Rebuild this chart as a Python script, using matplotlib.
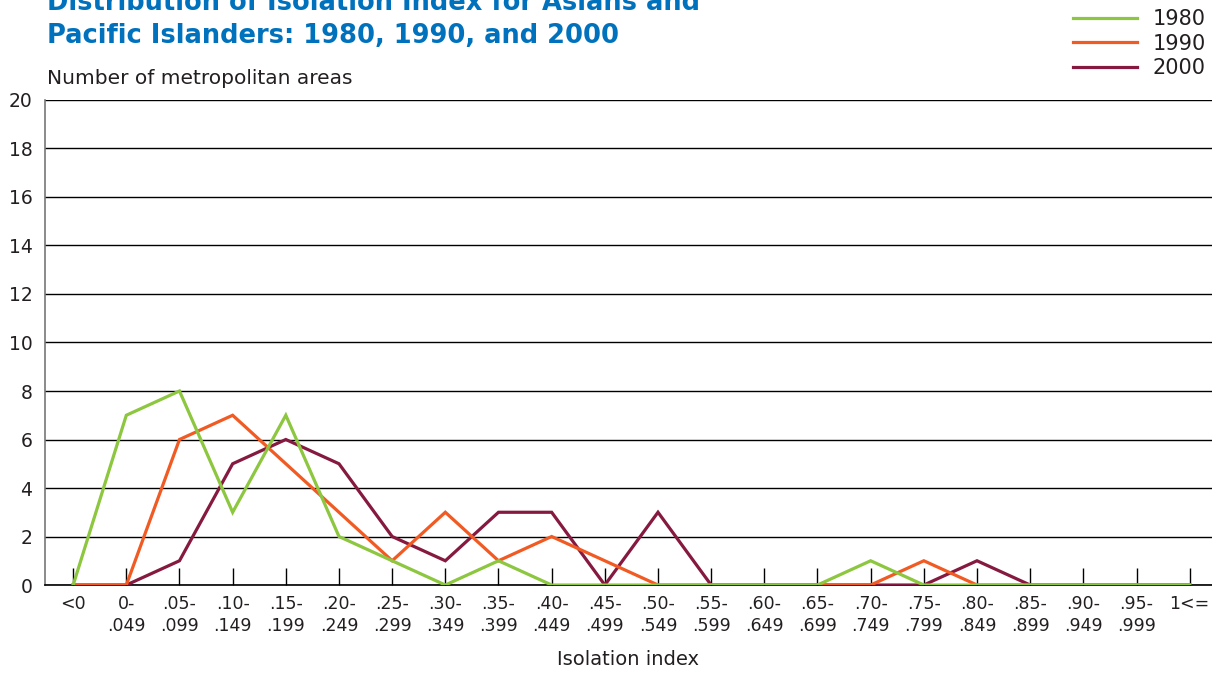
import numpy as np
import matplotlib
matplotlib.use('Agg')
import matplotlib.pyplot as plt

plt.rcParams['font.family'] = ['DejaVu Sans']

# categorias do indice de isolamento
categorias = ['<0', '0-\n.049', '.05-\n.099', '.10-\n.149', '.15-\n.199', '.20-\n.249',
              '.25-\n.299', '.30-\n.349', '.35-\n.399', '.40-\n.449', '.45-\n.499',
              '.50-\n.549', '.55-\n.599', '.60-\n.649', '.65-\n.699', '.70-\n.749',
              '.75-\n.799', '.80-\n.849', '.85-\n.899', '.90-\n.949', '.95-\n.999', '1<=']

v1980 = [0, 7, 8, 3, 7, 2, 1, 0, 1, 0, 0, 0, 0, 0, 0, 1, 0, 0, 0, 0, 0, 0]
v1990 = [0, 0, 6, 7, 5, 3, 1, 3, 1, 2, 1, 0, 0, 0, 0, 0, 1, 0, 0, 0, 0, 0]
v2000 = [0, 0, 1, 5, 6, 5, 2, 1, 3, 3, 0, 3, 0, 0, 0, 0, 0, 1, 0, 0, 0, 0]

anos = ['1980', '1990', '2000']
cores = ['#8DC63F', '#F15A22', '#86193F']
texto = '#231F20'

x = np.arange(len(categorias))

fig = plt.figure(figsize=(12.12, 6.75), dpi=100)
ax = fig.add_axes([0.0371, 0.1333, 0.9629, 0.7186])

# ordem de desenho: 2000 embaixo, 1980 por cima
linhas = {}
for serie, ano, cor, z in zip([v2000, v1990, v1980], anos[::-1], cores[::-1], [3, 4, 5]):
    l, = ax.plot(x, serie, color=cor, lw=2.3, zorder=z, solid_joinstyle='miter')
    linhas[ano] = l

ax.set_xlim(-0.53, 21.42)
ax.set_ylim(0, 20)
ax.set_yticks(np.arange(0, 21, 2))
ax.yaxis.grid(True, color='black', lw=1.0)
ax.set_axisbelow(True)
ax.tick_params(axis='y', length=0, labelsize=13.5, pad=9, labelcolor=texto)
ax.set_xticks(x)
ax.set_xticklabels(categorias, fontsize=12.5, color=texto, linespacing=1.3)
ax.tick_params(axis='x', direction='in', length=12, width=1.0, color='black', pad=7)

for s in ['top', 'right']:
    ax.spines[s].set_visible(False)
ax.spines['left'].set_color('#777777')
ax.spines['left'].set_linewidth(1.2)
ax.spines['bottom'].set_color('black')
ax.spines['bottom'].set_linewidth(1.2)

ax.set_xlabel('Isolation index', fontsize=14, color=texto, labelpad=11)

fig.text(0.0388, 1 - 84 / 675, 'Number of metropolitan areas', fontsize=14.5,
         color=texto, va='baseline')

fig.text(0.0388, 1 - 10 / 675, 'Distribution of Isolation Index for Asians and',
         fontsize=18.5, fontweight='bold', color='#0071BC', va='baseline')
fig.text(0.0388, 1 - 43 / 675, 'Pacific Islanders: 1980, 1990, and 2000',
         fontsize=18.5, fontweight='bold', color='#0071BC', va='baseline')

fig.legend([linhas[a] for a in anos], anos, loc='upper right',
           bbox_to_anchor=(1.0105, 1.0145), frameon=False, fontsize=15,
           handlelength=3.1, handletextpad=0.75, labelspacing=0.22,
           labelcolor=texto)

plt.savefig('out.png', dpi=100)
